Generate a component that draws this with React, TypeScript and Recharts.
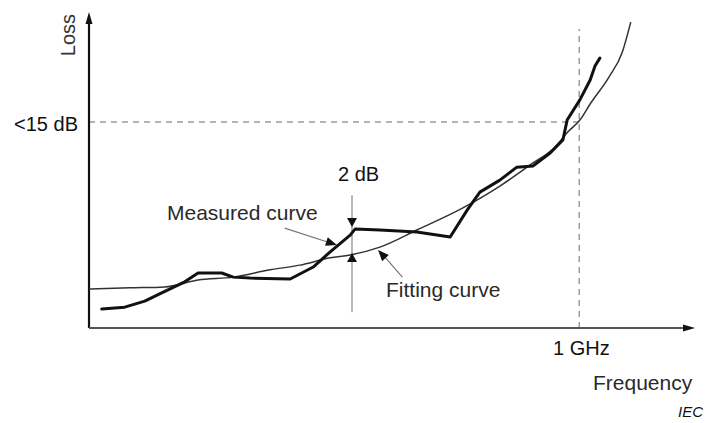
import { LineChart, Line, XAxis, YAxis, ReferenceLine, ReferenceDot, Customized } from 'recharts'

// ============================================
// Data (frequency and loss in relative units, 0-100)
// ============================================

const measuredFreq = [2.1, 5.9, 9.2, 12.0, 15.8, 18.0, 21.9, 23.8, 26.6, 33.2, 37.0, 39.8, 43.1, 43.9, 48.0, 54.1, 59.6, 62.4, 64.5, 67.8, 70.6, 73.3, 76.1, 78.2, 78.9, 81.0, 82.7, 83.5, 84.3]
const measuredLoss = [6.0, 6.6, 8.5, 11.1, 14.6, 17.4, 17.4, 16.1, 15.8, 15.5, 19.3, 24.1, 29.4, 31.3, 31.0, 30.4, 28.8, 37.3, 43.0, 46.8, 50.9, 51.3, 55.4, 59.5, 65.8, 72.2, 78.5, 82.9, 85.4]

const fittingFreq = [0, 6.8, 12.5, 18.0, 23.8, 29.9, 34.8, 39.8, 43.1, 48.0, 54.1, 61.7, 67.8, 72.8, 76.9, 79.0, 81.0, 82.8, 85.8, 88.0, 89.4]
const fittingLoss = [12.3, 12.7, 13.0, 15.2, 16.1, 18.4, 19.9, 22.2, 23.1, 25.6, 31.0, 38.0, 44.9, 51.6, 57.3, 62.0, 65.8, 71.2, 79.4, 87.3, 96.8]

const LOSS_LIMIT = 65.2 // "<15 dB"
const FREQ_1GHZ = 80.9
const FREQ_GAP = 43.4 // where the 2 dB gap is marked

const measured = measuredFreq.map((f, i) => ({ f, loss: measuredLoss[i] }))
const fitting = fittingFreq.map((f, i) => ({ f, loss: fittingLoss[i] }))

// ============================================
// Helpers
// ============================================

// filled arrow head, tip at the dot position, angle in degrees (0 = right)
function arrowHead(angle: number, len = 10, wide = 10) {
  return (props: any) => (
    <polygon
      points={`0,0 ${-len},${-wide / 2} ${-len},${wide / 2}`}
      transform={`translate(${props.cx},${props.cy}) rotate(${angle})`}
      fill="#111"
    />
  )
}

const font = 'Liberation Sans, Arial, sans-serif'

function Labels() {
  return (
    <g fontFamily={font}>
      <text x={75} y={35} fontSize={20} fill="#333" textAnchor="middle" transform="rotate(-90 75 35)">
        Loss
      </text>
      <text x={78} y={131} fontSize={20} fill="#111" textAnchor="end">&lt;15 dB</text>
      <text x={338} y={181} fontSize={20} fill="#111">2 dB</text>
      <text x={167} y={220} fontSize={21} fill="#2a2a2a">Measured curve</text>
      <text x={386} y={297} fontSize={21} fill="#2a2a2a">Fitting curve</text>
      <text x={553} y={355} fontSize={20} fill="#111">1 GHz</text>
      <text x={593} y={390} fontSize={21} fill="#2a2a2a">Frequency</text>
      <text x={678} y={417} fontSize={15} fill="#111" fontStyle="italic">IEC</text>
    </g>
  )
}

// ============================================
// Main Component
// ============================================

export default function App() {
  return (
    <div style={{ position: 'absolute', left: 0, top: 0, width: 709, height: 423, background: '#fff' }}>
      <LineChart width={709} height={423} margin={{ top: 12, right: 14, bottom: 95, left: 89 }}>
        <XAxis type="number" dataKey="f" domain={[0, 100]} hide allowDataOverflow />
        <YAxis type="number" domain={[0, 100]} hide allowDataOverflow />

        {/* dashed guides */}
        <ReferenceLine
          segment={[{ x: 0, y: LOSS_LIMIT }, { x: FREQ_1GHZ, y: LOSS_LIMIT }]}
          stroke="#9a9a9a"
          strokeWidth={1.5}
          strokeDasharray="6 5"
          ifOverflow="visible"
        />
        <ReferenceLine
          segment={[{ x: FREQ_1GHZ, y: 0 }, { x: FREQ_1GHZ, y: 94.6 }]}
          stroke="#9a9a9a"
          strokeWidth={1.5}
          strokeDasharray="6 5"
          ifOverflow="visible"
        />

        {/* 2 dB gap marker */}
        <ReferenceLine
          segment={[{ x: FREQ_GAP, y: 5 }, { x: FREQ_GAP, y: 42 }]}
          stroke="#888"
          strokeWidth={1.2}
          ifOverflow="visible"
        />

        {/* leaders */}
        <ReferenceLine
          segment={[{ x: 32.3, y: 31.6 }, { x: 40.5, y: 26.5 }]}
          stroke="#777"
          strokeWidth={1.2}
          ifOverflow="visible"
        />
        <ReferenceLine
          segment={[{ x: 51.7, y: 16.1 }, { x: 48.0, y: 24.3 }]}
          stroke="#777"
          strokeWidth={1.2}
          ifOverflow="visible"
        />

        {/* axes */}
        <ReferenceLine
          segment={[{ x: 0, y: 0 }, { x: 0, y: 97 }]}
          stroke="#111"
          strokeWidth={2.2}
          ifOverflow="visible"
        />
        <ReferenceLine
          segment={[{ x: 0, y: 0 }, { x: 98, y: 0 }]}
          stroke="#555"
          strokeWidth={2}
          ifOverflow="visible"
        />

        <Line
          data={fitting}
          dataKey="loss"
          type="monotone"
          stroke="#333"
          strokeWidth={1.5}
          dot={false}
          isAnimationActive={false}
        />
        <Line
          data={measured}
          dataKey="loss"
          type="linear"
          stroke="#111"
          strokeWidth={3}
          strokeLinejoin="round"
          strokeLinecap="round"
          dot={false}
          isAnimationActive={false}
        />

        {/* arrow heads */}
        <ReferenceDot x={0} y={100} r={0} ifOverflow="visible" shape={arrowHead(-90, 12, 7)} />
        <ReferenceDot x={100} y={0} r={0} ifOverflow="visible" shape={arrowHead(0, 12, 7)} />
        <ReferenceDot x={FREQ_GAP} y={32.0} r={0} ifOverflow="visible" shape={arrowHead(90, 9, 10)} />
        <ReferenceDot x={FREQ_GAP} y={23.7} r={0} ifOverflow="visible" shape={arrowHead(-90, 9, 10)} />
        <ReferenceDot x={40.9} y={26.3} r={0} ifOverflow="visible" shape={arrowHead(18, 11, 9)} />
        <ReferenceDot x={47.7} y={24.7} r={0} ifOverflow="visible" shape={arrowHead(-132, 11, 9)} />

        <Customized component={Labels} />
      </LineChart>
    </div>
  )
}
